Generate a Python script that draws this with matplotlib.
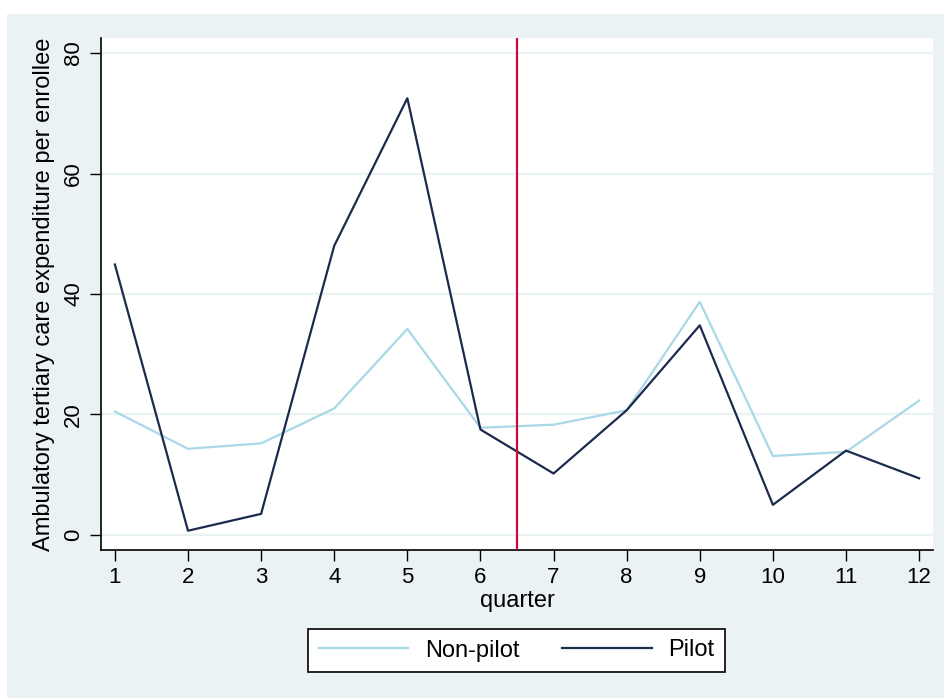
import matplotlib
matplotlib.use("Agg")
import matplotlib.pyplot as plt
from matplotlib.patches import Rectangle

quarters = [1, 2, 3, 4, 5, 6, 7, 8, 9, 10, 11, 12]
non_pilot = [20.5, 14.3, 15.2, 21.0, 34.2, 17.8, 18.3, 20.7, 38.7, 13.1, 13.8, 22.3]
pilot = [44.9, 0.7, 3.5, 48.0, 72.5, 17.5, 10.2, 20.7, 34.8, 5.0, 14.0, 9.4]
y_ticks = [0, 20, 40, 60, 80]
cutoff = 6.5

BG = "#eaf2f3"
plt.rcParams["font.family"] = ["Liberation Sans", "DejaVu Sans"]

fig = plt.figure(figsize=(9.44, 6.98), dpi=100)
fig.patch.set_facecolor("white")
# outer graph region (Stata style), white strip at top and left
fig.patches.append(Rectangle((7 / 944, 0), 1, (698 - 14) / 698,
                             transform=fig.transFigure, facecolor=BG,
                             edgecolor="none", zorder=-10))

ax = fig.add_axes([101 / 944, (698 - 550) / 698, (933 - 101) / 944, (550 - 38) / 698])
ax.set_zorder(1)
ax.set_facecolor("white")

for y in y_ticks:
    ax.axhline(y, color=BG, lw=1.6, zorder=1)

ax.plot(quarters, non_pilot, color="#a8d8e6", lw=1.6, label="Non-pilot", zorder=3)
ax.plot(quarters, pilot, color="#1c2a4e", lw=1.6, label="Pilot", zorder=4)
ax.axvline(cutoff, color="#cc0a3a", lw=1.6, zorder=5)

ax.set_xlim(0.81, 12.19)
ax.set_ylim(-2.5, 82.5)
ax.set_xticks(quarters)
ax.set_yticks(y_ticks)
ax.set_yticklabels([str(v) for v in y_ticks], rotation=90, va="center")
ax.tick_params(axis="both", length=8, width=1, labelsize=16, color="black")
ax.tick_params(axis="x", pad=4)
ax.tick_params(axis="y", pad=4)

for side in ("top", "right"):
    ax.spines[side].set_visible(False)
for side in ("left", "bottom"):
    ax.spines[side].set_linewidth(1.2)

ax.set_xlabel("quarter", fontsize=17, labelpad=2)
ax.set_ylabel("Ambulatory tertiary care expenditure per enrollee", fontsize=17, labelpad=6)

leg = fig.legend(loc="center", bbox_to_anchor=(516.5 / 944, (698 - 650.5) / 698),
                 ncol=2, fontsize=17, frameon=True, fancybox=False,
                 handlelength=3.8, columnspacing=1.8, handletextpad=0.7,
                 borderpad=0.45, framealpha=1)
leg.get_frame().set_edgecolor("black")
leg.get_frame().set_facecolor("white")
leg.get_frame().set_linewidth(1.2)

fig.savefig("out.png", dpi=100, facecolor=fig.get_facecolor())
